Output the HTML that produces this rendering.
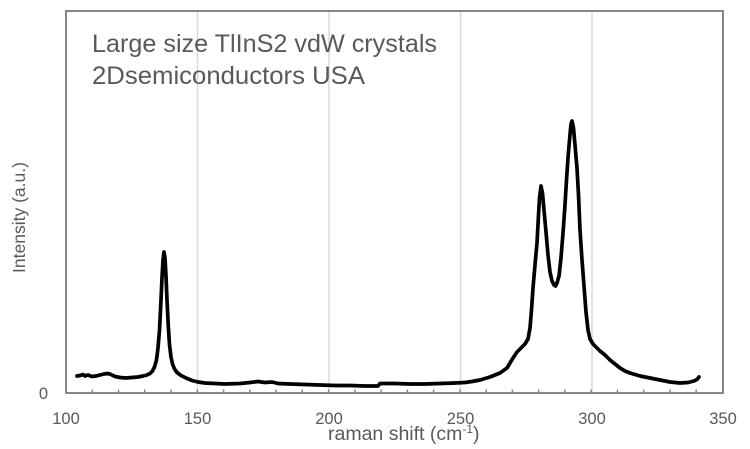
<!DOCTYPE html>
<html>
<head>
<meta charset="utf-8">
<style>
html,body{margin:0;padding:0;background:#fff;}
svg{display:block;}
text{font-family:"Liberation Sans",sans-serif;fill:#595959;}
</style>
</head>
<body>
<svg width="750" height="449" viewBox="0 0 750 449" xmlns="http://www.w3.org/2000/svg">
<rect x="0" y="0" width="750" height="449" fill="#fff"/>
<!-- gridlines -->
<g stroke="#d9d9d9" stroke-width="1.5">
<line x1="197.5" y1="12" x2="197.5" y2="392"/>
<line x1="329" y1="12" x2="329" y2="392"/>
<line x1="460.5" y1="12" x2="460.5" y2="392"/>
<line x1="592" y1="12" x2="592" y2="392"/>
</g>
<!-- minor ticks -->
<g stroke="#868686" stroke-width="1.5">
<line x1="92.3" y1="389.5" x2="92.3" y2="393"/>
<line x1="118.5" y1="389.5" x2="118.5" y2="393"/>
<line x1="144.8" y1="389.5" x2="144.8" y2="393"/>
<line x1="171" y1="389.5" x2="171" y2="393"/>
<line x1="197.3" y1="389.5" x2="197.3" y2="393"/>
<line x1="223.6" y1="389.5" x2="223.6" y2="393"/>
<line x1="249.8" y1="389.5" x2="249.8" y2="393"/>
<line x1="276.1" y1="389.5" x2="276.1" y2="393"/>
<line x1="302.3" y1="389.5" x2="302.3" y2="393"/>
<line x1="328.6" y1="389.5" x2="328.6" y2="393"/>
<line x1="354.9" y1="389.5" x2="354.9" y2="393"/>
<line x1="381.1" y1="389.5" x2="381.1" y2="393"/>
<line x1="407.4" y1="389.5" x2="407.4" y2="393"/>
<line x1="433.6" y1="389.5" x2="433.6" y2="393"/>
<line x1="459.9" y1="389.5" x2="459.9" y2="393"/>
<line x1="486.2" y1="389.5" x2="486.2" y2="393"/>
<line x1="512.4" y1="389.5" x2="512.4" y2="393"/>
<line x1="538.7" y1="389.5" x2="538.7" y2="393"/>
<line x1="564.9" y1="389.5" x2="564.9" y2="393"/>
<line x1="591.2" y1="389.5" x2="591.2" y2="393"/>
<line x1="617.5" y1="389.5" x2="617.5" y2="393"/>
<line x1="643.7" y1="389.5" x2="643.7" y2="393"/>
<line x1="670" y1="389.5" x2="670" y2="393"/>
<line x1="696.2" y1="389.5" x2="696.2" y2="393"/>
</g>
<!-- frame -->
<rect x="66" y="11" width="657" height="382" fill="none" stroke="#868686" stroke-width="2"/>
<!-- data -->
<polyline fill="none" stroke="#000" stroke-width="3.7" stroke-linejoin="round" stroke-linecap="round" points="77,376 80,375.5 83,374.5 85,376 88,375 92,376.5 96,376 100,375 104,374 108,373.5 111,374.5 115,376.5 120,377.5 126,378 132,377.5 138,377 143,376 147,375 150,373.5 152.5,371 154.5,367 156.5,360 158,348 159.5,330 161,300 162,278 163,260 164,252 165,258 166,276 167,300 168.3,326 169.5,345 171,357 172.5,364 174.5,369 177,372.5 181,375.5 186,378 192,380.5 198,382 205,383 215,383.5 225,384 240,383.5 250,382.5 258,381.5 265,382.5 272,382 278,383.5 290,384 305,384.5 320,385 335,385.5 350,385.5 365,386 378,386 380,383.5 395,383.5 410,384 425,384 440,383.5 455,383 465,382.5 472,381.5 480,380 490,377 500,373 507,368 513,358 517,352 521,348 525,344 528,339 530,328 531.5,310 533,288 535,265 537,243 538.5,215 539.5,198 541,186 542.5,193 544,210 546,232 548,255 550,272 552,281 554,285 555.5,286 557,283 559,276 561,258 563,233 565,205 566.5,180 568,158 569.5,140 571,124 572,121 573.5,128 575,145 577,168 578.5,195 580,230 582,260 584,286 586,312 588,330 590,339 593,344 597,348 600,351 605,355 610,360 615,364 620,368 625,371 630,373 640,376 650,378 660,380 670,382 680,383 688,382.5 694,381 697,379.5 699,377"/>
<!-- title -->
<text x="92" y="52" font-size="25" textLength="345" lengthAdjust="spacingAndGlyphs">Large size TlInS2 vdW crystals</text>
<text x="92" y="84" font-size="25" textLength="273" lengthAdjust="spacingAndGlyphs">2Dsemiconductors USA</text>
<!-- tick labels -->
<g font-size="16.5" text-anchor="middle">
<text x="66" y="424">100</text>
<text x="197.5" y="424">150</text>
<text x="329" y="424">200</text>
<text x="460.5" y="424">250</text>
<text x="592" y="424">300</text>
<text x="723" y="424">350</text>
</g>
<text x="48" y="399" font-size="16.5" text-anchor="end">0</text>
<!-- axis titles -->
<text x="328" y="440" font-size="19.5">raman shift (cm<tspan font-size="12" dy="-7">-1</tspan><tspan dy="7">)</tspan></text>
<text transform="translate(25,273) rotate(-90)" x="0" y="0" font-size="17.5" textLength="111" lengthAdjust="spacingAndGlyphs">Intensity (a.u.)</text>
</svg>
</body>
</html>
